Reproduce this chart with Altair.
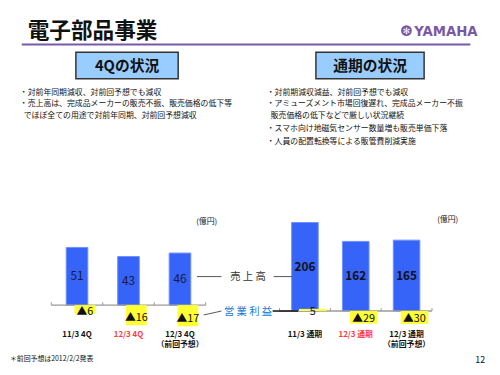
import altair as alt
import pandas as pd

# ---------------- data ----------------
title_text = "電子部品事業"
brand = "YAMAHA"
box_titles = ["4Qの状況", "通期の状況"]
left_bullets = [
    "・対前年同期減収、対前回予想でも減収",
    "・売上高は、完成品メーカーの販売不振、販売価格の低下等",
    "でほぼ全ての用途で対前年同期、対前回予想減収",
]
right_bullets = [
    "・対前期減収減益、対前回予想でも減収",
    "・アミューズメント市場回復遅れ、完成品メーカー不振",
    "販売価格の低下などで厳しい状況継続",
    "・スマホ向け地磁気センサー数量増も販売単価下落",
    "・人員の配置転換等による販管費削減実施",
]
cats_q = ["11/3 4Q", "12/3 4Q", "12/3 4Q\n（前回予想）"]
sales_q = [51, 43, 46]
profit_q = [-6, -16, -17]
cats_y = ["11/3 通期", "12/3 通期", "12/3 通期\n（前回予想）"]
sales_y = [206, 162, 165]
profit_y = [5, -29, -30]
unit_label = "(億円)"
legend_sales = "売 上 高"
legend_profit = "営 業 利 益"
footnote = "＊前回予想は2012/2/2発表"
page_no = "12"

JP = "Noto Sans CJK JP"
OFF = 8  # page margin: reference coords -> chart coords


def R(v):
    return v - OFF


one = pd.DataFrame({"k": [0]})


def txt(s, x, y, size, align="left", weight="normal", color="#111", font=JP, baseline="middle"):
    return alt.Chart(one).mark_text(
        align=align, baseline=baseline, fontSize=size, fontWeight=weight, color=color, font=font
    ).encode(x=alt.value(R(x)), y=alt.value(R(y)), text=alt.value(s))


def line(x1, y1, x2, y2, color="#333", w=1.0):
    return alt.Chart(one).mark_rule(color=color, strokeWidth=w).encode(
        x=alt.value(R(x1)), y=alt.value(R(y1)), x2=alt.value(R(x2)), y2=alt.value(R(y2))
    )


def box(x1, y1, x2, y2, fill, stroke, w=1.5):
    return alt.Chart(one).mark_rect(fill=fill, stroke=stroke, strokeWidth=w).encode(
        x=alt.value(R(x1)), y=alt.value(R(y1)), x2=alt.value(R(x2)), y2=alt.value(R(y2))
    )


def panel(cats, sales, profit, xr, ydom, yr, bw, pw, highlight, vbold, vcolor, poff):
    df = pd.DataFrame({"cat": cats, "sales": sales, "profit": profit})
    xs = alt.Scale(domain=cats, range=[R(xr[0]), R(xr[1])], paddingInner=0, paddingOuter=0)
    ys = alt.Scale(domain=ydom, range=[R(yr[0]), R(yr[1])], nice=False)
    X = alt.X("cat:N", scale=xs, axis=None)
    base = alt.Chart(df)
    bars = base.mark_bar(width=bw, color="#3663F8", stroke="#7090FF", strokeWidth=1).encode(
        x=X, y=alt.Y("sales:Q", scale=ys, axis=None), y2=alt.datum(0)
    )
    axis_line = alt.Chart(one).mark_rule(color="#9A9A9A", strokeWidth=1.5).encode(
        x=alt.value(R(xr[0])), x2=alt.value(R(xr[1])), y=alt.YDatum(0, scale=ys, axis=None)
    )
    ticks = base.mark_rule(color="#9A9A9A", strokeWidth=1, y2Offset=-3).encode(
        x=alt.X("cat:N", scale=xs, axis=None, bandPosition=0),
        y=alt.YDatum(0, scale=ys, axis=None),
        y2=alt.datum(0),
    )
    tick_end = base.transform_filter(alt.datum.cat == cats[-1]).mark_rule(
        color="#9A9A9A", strokeWidth=1, y2Offset=-3
    ).encode(
        x=alt.X("cat:N", scale=xs, axis=None, bandPosition=1),
        y=alt.YDatum(0, scale=ys, axis=None),
        y2=alt.datum(0),
    )
    pbars = base.mark_bar(width=pw, xOffset=8, yOffset=poff, color="#FFFF33").encode(
        x=X, y=alt.Y("profit:Q", scale=ys, axis=None), y2=alt.datum(0)
    )
    vtext = base.transform_calculate(mid="datum.sales/2").mark_text(
        font=JP, fontSize=12, fontWeight="bold" if vbold else "normal", color=vcolor, baseline="middle"
    ).encode(x=X, y=alt.Y("mid:Q", scale=ys, axis=None), text="sales:Q")
    ptext = base.transform_calculate(
        mid="datum.profit/2",
        lab="datum.profit < 0 ? '▲' + abs(datum.profit) : '' + datum.profit",
    ).mark_text(font=JP, fontSize=11, color="#111", baseline="middle", xOffset=8, dy=2 + poff).encode(
        x=X, y=alt.Y("mid:Q", scale=ys, axis=None), text="lab:N"
    )
    clabels = base.mark_text(
        font=JP, fontSize=8, fontWeight="bold", lineBreak="\n", lineHeight=11, baseline="middle"
    ).encode(
        x=X,
        y=alt.value(R(337)),
        text="cat:N",
        color=alt.when(alt.datum.cat == highlight).then(alt.value("#FF3B3B")).otherwise(alt.value("#111")),
    )
    return [bars, axis_line, ticks, tick_end, pbars, vtext, ptext, clabels]


layers = []
# header
layers.append(txt(title_text, 28, 28, 22, weight="bold"))
layers.append(line(22, 42, 478, 42, color="#7B58A6", w=2))
layers.append(
    alt.Chart(one).mark_point(filled=True, shape="circle", size=120, color="#7B58A6", opacity=1).encode(
        x=alt.value(R(413)), y=alt.value(R(28))
    )
)
layers.append(txt("✻", 413, 28, 9, align="center", color="white", font="DejaVu Sans"))
layers.append(
    txt(brand, 421, 28, 15, weight="bold", color="#7B58A6",
        font="Liberation Sans Narrow, DejaVu Sans Condensed, sans-serif")
)

# section boxes
layers.append(box(77, 50, 181, 77, "#99CCFF", "#333333"))
layers.append(box(321, 50, 431, 77, "#99CCFF", "#333333"))
layers.append(txt(box_titles[0], 129, 63.5, 15, align="center", weight="bold"))
layers.append(txt(box_titles[1], 376, 63.5, 15, align="center", weight="bold"))

# bullets
for s, x, y in zip(left_bullets, [20, 20, 24], [91, 102.5, 114.5]):
    layers.append(txt(s, x, y, 8))
for s, x, y in zip(right_bullets, [271, 271, 275, 271, 271], [91, 102.5, 114.5, 127.5, 141]):
    layers.append(txt(s, x, y, 8))

# panels
layers += panel(cats_q, sales_q, profit_q, (52, 209), [-20, 60], (330, 238), 22, 21,
                "12/3 4Q", False, "#1A1A40", 2)
layers += panel(cats_y, sales_y, profit_y, (284, 439), [-40, 220], (330.5, 216.9), 27, 28,
                "12/3 通期", True, "#111", 0)

# units
layers.append(txt(unit_label, 210, 223, 8, align="center"))
layers.append(txt(unit_label, 455, 220, 8, align="center"))

# legend annotations
layers.append(line(200, 278, 225, 278, color="#555"))
layers.append(line(278, 278, 297, 278, color="#555"))
layers.append(txt(legend_sales, 252, 278, 10.5, align="center", color="#333"))
layers.append(line(207, 317, 225, 313, color="#555"))
layers.append(line(277, 313, 303, 313, color="#111", w=1.5))
layers.append(txt(legend_profit, 252, 314, 10.5, align="center", color="#1E78D2"))

# footer
layers.append(txt(footnote, 10, 362, 7))
layers.append(txt(page_no, 488, 363, 9, align="center"))

chart = (
    alt.layer(*layers)
    .resolve_scale(x="independent", y="independent")
    .properties(
        width=492,
        height=367,
        autosize=alt.AutoSizeParams(type="none"),
        padding=0,
        background="white",
    )
    .configure_view(stroke=None)
)

chart.save("out.html", embed_options={"renderer": "svg", "actions": False})
